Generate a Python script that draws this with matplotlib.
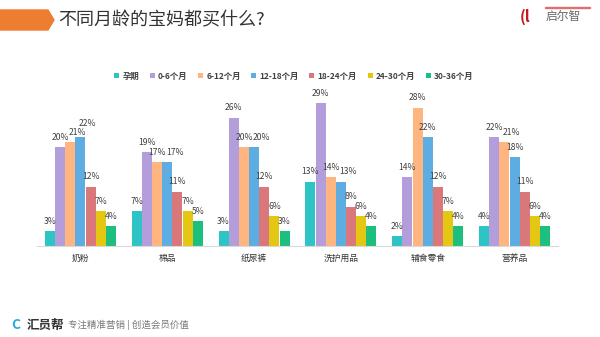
import matplotlib
matplotlib.use("Agg")
import matplotlib.pyplot as plt
import numpy as np
from matplotlib.patches import Polygon, Rectangle

plt.rcParams['font.family'] = ['Noto Sans CJK SC', 'DejaVu Sans']

categories = ["奶粉", "棉品", "纸尿裤", "洗护用品", "辅食零食", "营养品"]
series_names = ["孕期", "0-6个月", "6-12个月", "12-18个月", "18-24个月", "24-30个月", "30-36个月"]
v_pregnancy = [3, 7, 3, 13, 2, 4]
v_0_6 = [20, 19, 26, 29, 14, 22]
v_6_12 = [21, 17, 20, 14, 28, 21]
v_12_18 = [22, 17, 20, 13, 22, 18]
v_18_24 = [12, 11, 12, 8, 12, 11]
v_24_30 = [7, 7, 6, 6, 7, 6]
v_30_36 = [4, 5, 3, 4, 4, 4]
series_values = [v_pregnancy, v_0_6, v_6_12, v_12_18, v_18_24, v_24_30, v_30_36]
colors = ["#2EC4C6", "#B39DDB", "#FFB580", "#5DADE2", "#D9777A", "#E3C712", "#1DBF7E"]

fig = plt.figure(figsize=(6.0, 3.37), dpi=100)
ax = fig.add_axes([37/600, 1-246/337, 521/600, 148/337])

x = np.arange(len(categories))
w = 0.117
n = len(series_names)
positions = []
for i, (name, vals, c) in enumerate(zip(series_names, series_values, colors)):
    pos = x + (i - (n-1)/2) * w
    positions.append(pos)
    ax.bar(pos, vals, width=w*0.98, color=c, label=name)

# value labels with simple collision avoidance
for g in range(len(categories)):
    prev_v, prev_shift = None, 0.0
    for i in range(n):
        v = series_values[i][g]
        p = positions[i][g]
        dx, dy = 0.0, 0.0
        if prev_v is not None and abs(v - prev_v) <= 1.5:
            dx = 0.085 if prev_shift == 0 else 0.08
            dy = 0.8 if prev_shift != 0 else 0.0
        ax.text(p + dx, v + 1.1 + dy, f"{v}%", ha='center', va='bottom',
                fontsize=6.2, color='#404040')
        prev_v, prev_shift = v, dx

ax.set_xlim(-0.5, len(categories) - 0.5)
ax.set_ylim(0, 30)
ax.set_yticks([])
ax.set_xticks(x)
ax.set_xticklabels(categories, fontsize=6.3, color='#333333', fontweight='medium')
ax.tick_params(axis='x', length=0, pad=6)
for s in ['top', 'right', 'left']:
    ax.spines[s].set_visible(False)
ax.spines['bottom'].set_color('#D9D9D9')
ax.spines['bottom'].set_linewidth(0.8)

leg = fig.legend(loc='center', bbox_to_anchor=(0.49, 1-76/337), ncol=7, frameon=False,
                 fontsize=6.0, handlelength=0.6, handleheight=0.6, handletextpad=0.4,
                 columnspacing=1.25)
for t in leg.get_texts():
    t.set_color('#404040')
    t.set_fontweight('bold')

# title banner
fig.patches.append(Polygon([[0, 1-10/337], [48/600, 1-10/337], [54/600, 1-20/337],
                            [48/600, 1-30/337], [0, 1-30/337]], closed=True,
                           transform=fig.transFigure, color='#ED7D31'))
fig.text(58/600, 1-20/337, "不同月龄的宝妈都买什么?", fontsize=13, color='#333333',
         va='center', ha='left')

# logo
fig.text(520/600, 1-17/337, "(l", fontsize=11, color='#C8161D', fontweight='bold',
         va='center', ha='left')
fig.text(546/600, 1-17/337, "启尔智", fontsize=8.5, color='#666666', va='center', ha='left')
fig.patches.append(Rectangle((545/600, 1-8/337), 45/600, 1.2/337, transform=fig.transFigure,
                             color='#E07070'))

# footer
fig.text(11/600, 1-325/337, "C", fontsize=10, color='#29A9E0', fontweight='bold',
         va='center', ha='left')
fig.text(27/600, 1-325/337, "汇员帮", fontsize=9, color='#333333', fontweight='bold',
         va='center', ha='left')
fig.text(68/600, 1-325/337, "专注精准营销 | 创造会员价值", fontsize=6.8, color='#777777',
         va='center', ha='left')

fig.savefig("out.png", dpi=100)
